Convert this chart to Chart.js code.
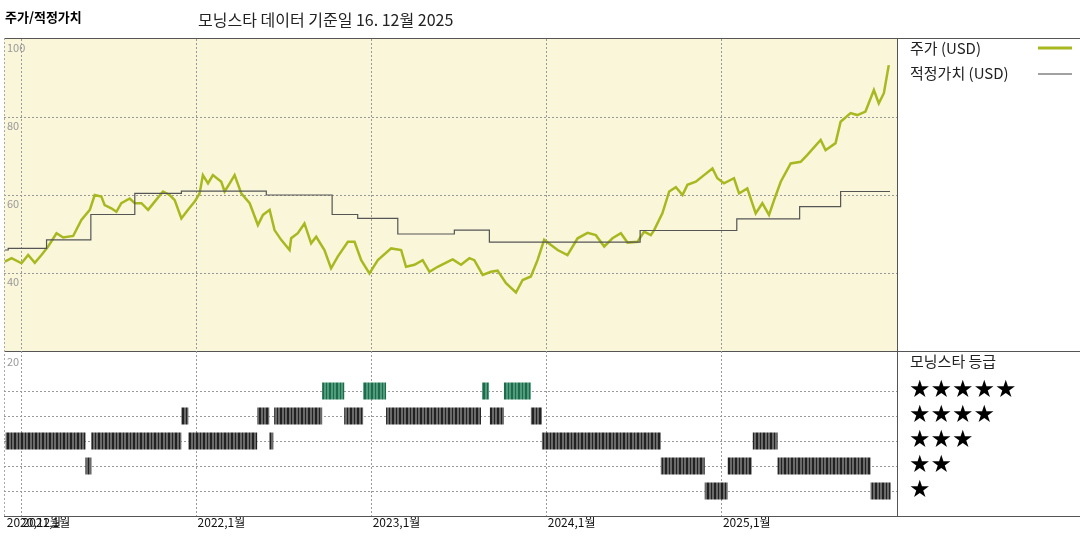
<!DOCTYPE html>
<html><head><meta charset="utf-8">
<script src="https://cdn.jsdelivr.net/npm/chart.js@4"></script>
<style>body{margin:0;background:#fff}canvas{position:absolute;left:0;top:0}</style>
</head><body>
<canvas id="c1" width="1080" height="540"></canvas>
<canvas id="c2" width="1080" height="540"></canvas>
<script>
// Price (decimal year, USD)
const priceT=[2020.905,2020.943,2021.00,2021.038,2021.076,2021.114,2021.152,2021.20,2021.238,2021.295,2021.342,2021.39,2021.418,2021.456,2021.475,2021.513,2021.542,2021.57,2021.618,2021.647,2021.685,2021.723,2021.761,2021.808,2021.846,2021.875,2021.913,2021.951,2021.989,2022.017,2022.036,2022.065,2022.093,2022.141,2022.16,2022.189,2022.217,2022.255,2022.303,2022.35,2022.379,2022.417,2022.445,2022.483,2022.531,2022.54,2022.578,2022.616,2022.654,2022.683,2022.73,2022.768,2022.806,2022.864,2022.902,2022.94,2022.987,2023.035,2023.111,2023.168,2023.196,2023.244,2023.291,2023.33,2023.377,2023.453,
2023.463,2023.51,2023.558,2023.586,2023.634,2023.681,2023.719,2023.767,2023.824,2023.862,2023.909,2023.947,2023.985,2024.024,2024.062,2024.118,2024.176,2024.233,2024.28,2024.328,2024.375,2024.423,2024.461,2024.518,2024.556,2024.594,2024.613,2024.66,2024.699,2024.737,2024.775,2024.803,2024.851,2024.898,2024.946,2024.974,2025.012,2025.069,2025.098,2025.145,2025.193,2025.231,2025.269,2025.298,2025.336,2025.393,2025.45,2025.488,2025.564,2025.592,2025.649,2025.678,2025.735,2025.773,2025.82,2025.868,2025.896,2025.925,2025.953];
const priceV=[42.9,43.8,42.5,44.6,42.6,44.6,46.8,50.2,49.1,49.5,53.6,56.2,60.0,59.6,57.4,56.6,55.7,57.9,59.1,57.9,57.9,56.2,58.3,60.9,60.0,58.7,54.0,56.2,58.3,60.4,65.1,63.0,65.1,63.4,60.9,63.0,65.1,60.4,57.9,52.3,54.9,56.2,51.0,48.5,45.9,48.9,50.2,52.7,47.6,49.3,45.9,41.2,44.2,48.0,48.0,43.3,39.9,43.3,46.3,45.9,41.6,42.1,43.3,40.3,41.6,43.3,
43.5,42.1,43.8,43.3,39.5,40.3,40.6,37.4,35.0,38.2,39.1,43.3,48.5,47.2,45.9,44.6,48.9,50.3,49.7,46.8,48.9,50.2,47.8,48.0,50.6,49.7,51.0,55.3,60.9,62.0,60.0,62.6,63.4,65.1,66.8,64.3,63.0,64.3,60.4,61.7,55.3,57.9,54.9,58.7,63.4,68.1,68.5,70.3,74.1,71.5,73.3,78.8,81.0,80.5,81.4,86.9,83.5,86.1,93.3];
// Fair value steps (value holds from date onward)
const fairT=[2020.905,2020.924,2021.143,2021.396,2021.647,2021.913,2022.398,2022.774,2022.92,2023.149,2023.472,2023.672,2024.533,2025.085,2025.444,2025.678,2025.96];
const fairV=[45.9,46.3,48.5,55.0,60.4,61.0,60.0,55.0,54.0,50.0,51.0,47.9,50.9,53.9,57.0,60.9,60.9];
// Morningstar rating periods [start,end] per star count
const rating5=[[2022.717,2022.843],[2022.951,2023.082],[2023.63,2023.67],[2023.755,2023.909]];
const rating4=[[2021.913,2021.953],[2022.346,2022.415],[2022.443,2022.717],[2022.843,2022.951],[2023.082,2023.624],[2023.675,2023.755],[2023.909,2023.972]];
const rating3=[[2020.909,2021.365],[2021.399,2021.913],[2021.953,2022.346],[2022.415,2022.438],[2023.972,2024.651],[2025.176,2025.318]];
const rating2=[[2021.365,2021.399],[2024.651,2024.902],[2025.033,2025.17],[2025.318,2025.849]];
const rating1=[[2024.902,2025.033],[2025.849,2025.963]];
const yearTicks=[2021,2022,2023,2024,2025];
const xLabels=[["2020,12월",2020.91],["2021,1월",2021.0],["2022,1월",2022],["2023,1월",2023],["2024,1월",2024],["2025,1월",2025]];
const priceTicks=[40,60,80];
const priceLabels=[100,80,60,40];

const XMIN=2020.9,XMAX=2026.0;
const W=1080,H=540;
const F='"Noto Sans CJK KR","Noto Sans",sans-serif';
const grid={color:'#999',lineWidth:1,drawTicks:false};
const border={display:false,dash:[2,2]};
function xScale(){return {type:'linear',min:XMIN,max:XMAX,ticks:{display:false},grid,border,
  afterBuildTicks:s=>{s.ticks=yearTicks.map(v=>({value:v}));}};}

const bg={id:'bg',beforeDraw(c,a,o){const {left,top,width,height}=c.chartArea;c.ctx.save();c.ctx.fillStyle=o.color;c.ctx.fillRect(left,top,width,height);c.ctx.restore();}};

const deco={id:'deco',afterDraw(c){
  const ctx=c.ctx,ca=c.chartArea,ys=c.scales.y,xs=c.scales.x;
  ctx.save();
  ctx.fillStyle='#999';ctx.font='11px '+F;ctx.textBaseline='top';
  priceLabels.forEach(v=>ctx.fillText(String(v),7,ys.getPixelForValue(v)+3));
  ctx.fillStyle='#000';ctx.font='bold 13px '+F;ctx.textBaseline='alphabetic';
  ctx.fillText('주가/적정가치',5,22);
  ctx.font='16px '+F;ctx.fillStyle='#222';
  ctx.fillText('모닝스타 데이터 기준일 16. 12월 2025',198,26);
  ctx.font='15px '+F;ctx.fillStyle='#222';
  ctx.fillText('주가 (USD)',910,54);ctx.fillText('적정가치 (USD)',910,79);
  ctx.fillText('모닝스타 등급',910,367);
  ctx.strokeStyle='#a8b820';ctx.lineWidth=3;ctx.beginPath();ctx.moveTo(1038,48);ctx.lineTo(1072,48);ctx.stroke();
  ctx.strokeStyle='#444';ctx.lineWidth=1;ctx.beginPath();ctx.moveTo(1038,74);ctx.lineTo(1072,74);ctx.stroke();
  ctx.fillStyle='#000';ctx.font='24px "DejaVu Sans",sans-serif';ctx.textBaseline='middle';
  ['★★★★★','★★★★','★★★','★★','★'].forEach((s,i)=>ctx.fillText(s,909,391+i*25));
  ctx.font='12px '+F;ctx.textBaseline='top';ctx.fillStyle='#111';
  xLabels.forEach(([s,v])=>ctx.fillText(s,xs.getPixelForValue(v)+1,516));
  ctx.font='11px '+F;ctx.fillStyle='#999';ctx.fillText('20',7,356);
  // frame
  ctx.strokeStyle='#555';ctx.lineWidth=1;ctx.beginPath();
  ctx.moveTo(ca.left,38.5);ctx.lineTo(W,38.5);
  ctx.moveTo(ca.left,351.5);ctx.lineTo(W,351.5);
  ctx.moveTo(ca.left,516.5);ctx.lineTo(W,516.5);
  ctx.moveTo(897.5,38);ctx.lineTo(897.5,516);
  ctx.stroke();
  ctx.strokeStyle='#aaa';ctx.setLineDash([2,2]);ctx.beginPath();ctx.moveTo(4.5,38);ctx.lineTo(4.5,516);ctx.stroke();
  ctx.restore();
}};

new Chart(document.getElementById('c1'),{
  type:'line',
  data:{datasets:[
    {data:fairT.map((t,i)=>({x:t,y:fairV[i]})),stepped:'before',borderColor:'#555',borderWidth:1.2,pointRadius:0},
    {data:priceT.map((t,i)=>({x:t,y:priceV[i]})),borderColor:'#a8b820',borderWidth:2.5,pointRadius:0,tension:0}
  ]},
  options:{responsive:false,animation:false,events:[],
    layout:{padding:{left:4,right:W-897,top:39,bottom:H-351}},
    plugins:{legend:{display:false},tooltip:{enabled:false},bg:{color:'#faf6da'}},
    scales:{x:xScale(),
      y:{min:20,max:100,ticks:{display:false},grid,border,afterBuildTicks:s=>{s.ticks=priceTicks.map(v=>({value:v}));}}}},
  plugins:[bg,deco]
});

function pattern(base,dark){
  const p=document.createElement('canvas');p.width=7;p.height=4;const g=p.getContext('2d');
  g.fillStyle=base;g.fillRect(0,0,7,4);g.fillStyle=dark;g.fillRect(0,0,2,4);g.fillRect(4,0,1,4);
  return g.createPattern(p,'repeat');
}
const cx2=document.getElementById('c2').getContext('2d');
const patGray=pattern('#6a6a6a','#222'), patGreen=pattern('#4f9c7c','#1f6a4a');
function seg(periods,lvl){const d=[];periods.forEach(([a,b])=>{d.push({x:a,y:lvl},{x:b,y:lvl},{x:b,y:null});});return d;}
const rds=[[rating5,5,patGreen],[rating4,4,patGray],[rating3,3,patGray],[rating2,2,patGray],[rating1,1,patGray]].map(([r,l,p])=>({
  data:seg(r,l),borderColor:p,borderWidth:17,borderCapStyle:'butt',pointRadius:0,spanGaps:false}));
new Chart(cx2,{
  type:'line',data:{datasets:rds},
  options:{responsive:false,animation:false,events:[],
    layout:{padding:{left:4,right:W-897,top:351,bottom:H-516}},
    plugins:{legend:{display:false},tooltip:{enabled:false}},
    scales:{x:xScale(),
      y:{min:0,max:6.6,ticks:{display:false},grid,border,afterBuildTicks:s=>{s.ticks=[1,2,3,4,5].map(v=>({value:v}));}}}}
});
</script></body></html>
